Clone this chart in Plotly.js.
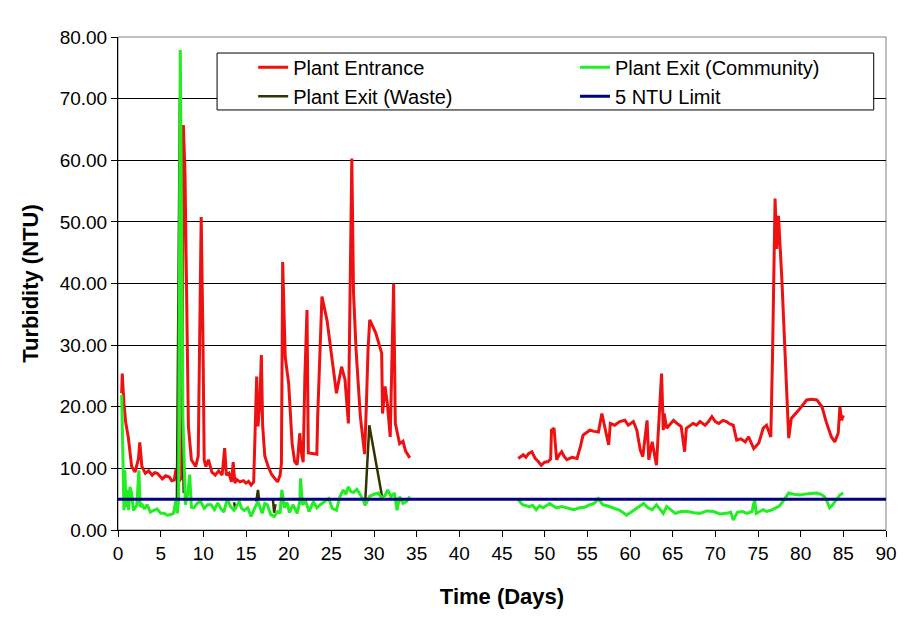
<!DOCTYPE html>
<html>
<head>
<meta charset="utf-8">
<script src="https://cdn.plot.ly/plotly-3.0.1.min.js"></script>
<style>
  html, body { margin: 0; padding: 0; background: #fff; }
  #chart { width: 911px; height: 624px; }
</style>
</head>
<body>
<div id="chart"></div>
<script>
// turbidity readings (days, NTU)
var entranceDays = [0.43, 0.5, 0.55, 0.7, 0.9, 1.2, 1.6, 2.0, 2.4, 2.55, 2.65, 2.8, 3.2, 3.6, 4.0, 4.3, 4.6, 5.0, 5.2, 5.6, 6.0, 6.3, 6.6, 6.8, 7.0, 7.2,
  7.46, 7.66, 7.85, 7.95, 8.25, 8.6, 9.1, 9.4, 9.6, 9.75, 9.95, 10.1, 10.3, 10.6, 11.0, 11.4, 11.8, 12.2, 12.5, 12.7, 13.0, 13.3, 13.5, 13.7, 13.9, 14.3, 14.7, 15.0, 15.3, 15.6, 15.9,
  16.1, 16.25, 16.4, 16.6, 16.8, 16.95, 17.2, 17.6, 18.0, 18.4, 18.7, 19.0, 19.15, 19.3, 19.6, 20.0, 20.4, 20.7, 21.0, 21.3, 21.5, 21.7, 21.9, 22.15, 22.3, 22.8, 23.3, 23.4, 23.9,
  24.5, 25.0, 25.6, 26.2, 26.6, 27.0, 27.2, 27.4, 27.6, 27.9, 28.4, 28.9, 29.1, 29.3, 29.5, 30.2, 30.9, 31.0, 31.3, 31.6, 31.9, 32.1, 32.3, 32.5, 32.8, 33.0, 33.4, 33.7, 34.2,
  40,
  46.9, 47.2, 47.5, 47.8, 48.1, 48.5, 48.9, 49.2, 49.6, 50.0, 50.4, 50.7, 50.8, 51.1, 51.4, 51.7, 52.0, 52.3, 52.6, 53.2, 53.8, 54.2, 54.5, 55.0, 55.3, 55.8, 56.3, 56.7, 57.1, 57.5, 57.7,
  58.2, 58.8, 59.4, 59.8, 60.4, 60.8, 61.2, 61.5, 62.0, 62.2, 62.6, 63.1, 63.4, 63.7, 63.9, 64.0, 64.3, 64.7, 65.1, 65.6, 66.0, 66.4, 66.6, 67.0, 67.4, 67.8, 68.2, 68.8, 69.2, 69.6,
  70.0, 70.4, 70.9, 71.3, 71.7, 72.1, 72.5, 73.0, 73.5, 73.9, 74.5, 75.1, 75.6, 76.0, 76.5, 76.7, 77.0, 77.2, 77.4, 77.8, 78.1, 78.4, 78.6, 78.9, 79.8, 80.7, 81.3, 81.9, 82.5, 83.0,
  83.6, 84.0, 84.4, 84.6, 84.8, 85.0];
var entranceNTU = [22.2, 25.4, 24.0, 20.5, 17.5, 15.1, 10.3, 9.4, 11.6, 14.2, 12.0, 10.3, 9.2, 9.6, 8.9, 9.3, 9.2, 8.7, 8.3, 8.8, 8.6, 8.0, 8.1, 9.9, 8.1, 8.0,
  8.5, 65.7, 57.9, 47.6, 16.8, 11.4, 10.3, 12.0, 37.9, 50.8, 31.6, 11.4, 10.3, 11.4, 9.4, 8.9, 9.6, 8.9, 13.3, 8.9, 9.2, 7.8, 11.0, 7.6, 8.2, 7.8, 8.0, 7.6, 7.9, 7.3, 7.8,
  18.9, 24.9, 16.8, 20.0, 28.4, 17.0, 12.0, 10.3, 9.0, 8.3, 7.8, 8.9, 10.8, 43.5, 28.0, 23.8, 14.1, 11.1, 10.6, 15.7, 12.5, 11.0, 24.9, 35.7, 12.5, 12.4, 12.3, 18.4, 37.9,
  34.0, 29.0, 22.2, 26.5, 24.4, 17.3, 38.4, 60.3, 38.5, 29.2, 18.4, 12.3, 20.0, 29.2, 34.1, 32.0, 28.7, 18.9, 23.3, 20.0, 15.1, 27.0, 40.0, 17.3, 15.0, 14.0, 14.4, 12.8, 11.7,
  null,
  11.6, 11.9, 12.2, 11.8, 12.4, 12.7, 11.6, 11.2, 10.5, 11.0, 11.1, 11.5, 16.2, 16.5, 11.4, 12.2, 12.7, 11.9, 11.4, 11.8, 11.6, 13.6, 15.4, 15.9, 16.2, 16.0, 15.9, 18.9, 16.5, 13.8, 17.3,
  17.0, 17.6, 17.8, 17.0, 17.6, 16.2, 13.0, 11.9, 17.8, 11.4, 14.3, 10.5, 17.8, 25.4, 16.2, 18.9, 16.5, 17.1, 17.8, 17.2, 16.8, 12.7, 16.5, 16.9, 17.3, 17.0, 17.6, 17.0, 17.6, 18.4,
  17.6, 17.3, 17.8, 17.6, 17.2, 17.0, 14.6, 14.8, 14.3, 15.1, 13.2, 14.1, 16.5, 17.0, 15.1, 28.1, 53.8, 45.6, 51.0, 40.6, 30.0, 21.6, 14.9, 18.1, 19.5, 21.1, 21.2, 21.1, 20.0, 17.5,
  15.1, 14.3, 15.7, 20.0, 17.8, 18.6];

var communityDays = [0.43, 0.55, 0.7, 0.8, 0.95, 1.1, 1.25, 1.4, 1.6, 1.8, 2.2, 2.45, 2.6, 2.75, 3.1, 3.4, 3.8, 4.2, 4.6, 5.0, 5.4, 5.8, 6.2, 6.5, 6.8, 6.95, 7.1,
  7.3, 7.45, 7.6, 7.9, 8.2, 8.4, 8.6, 8.9, 9.3, 9.7, 10.1, 10.5, 10.9, 11.3, 11.7, 12.0, 12.4, 12.8, 13.2, 13.6, 14.2, 14.5, 14.8, 15.2, 15.6, 16.0, 16.4, 16.9, 17.2, 17.5, 17.9,
  18.3, 18.7, 19.0, 19.2, 19.5, 19.8, 20.1, 20.5, 21.0, 21.3, 21.4, 21.6, 22.0, 22.4, 22.9, 23.3, 23.7, 24.2, 24.7, 25.1, 25.6, 26.0, 26.4, 26.7, 27.0, 27.3, 27.6, 28.0, 28.5, 29.0,
  29.5, 30.0, 30.5, 30.9, 31.3, 31.6, 32.0, 32.4, 32.7, 33.0, 33.4, 33.8, 34.2,
  40,
  46.9, 47.4, 48.2, 48.6, 49.0, 49.4, 49.8, 50.2, 50.6, 51.0, 51.4, 52.0, 52.6, 53.4, 54.1, 54.7, 55.3, 55.8, 56.3, 56.8, 57.4, 58.0, 58.8, 59.6, 60.2, 60.8, 61.2, 61.6, 62.1, 62.6,
  63.1, 63.5, 63.9, 64.3, 64.8, 65.3, 66.0, 66.7, 67.5, 68.2, 69.0, 69.8, 70.5, 71.3, 71.8, 72.1, 72.6, 73.2, 73.7, 74.3, 74.6, 74.8, 75.2, 75.6, 76.0, 76.5, 77.1, 77.5, 77.9, 78.6,
  79.2, 79.9, 80.9, 81.9, 82.4, 82.8, 83.1, 83.4, 83.7, 84.0, 84.3, 84.6, 85.0];
var communityNTU = [21.9, 13.5, 3.2, 9.7, 3.7, 6.5, 3.2, 7.0, 6.0, 3.2, 4.0, 9.7, 3.7, 4.3, 3.4, 4.1, 2.9, 3.2, 3.4, 2.7, 2.7, 2.4, 2.5, 2.7, 4.9, 2.7, 5.0,
  77.9, 48.0, 18.4, 4.1, 6.0, 9.0, 3.7, 3.6, 4.4, 4.6, 3.5, 4.1, 4.1, 3.3, 4.4, 3.6, 2.9, 5.0, 3.8, 3.2, 4.6, 3.5, 3.2, 3.6, 2.2, 3.5, 4.6, 2.7, 4.3, 4.1, 2.5,
  2.2, 3.0, 2.7, 6.5, 3.6, 4.5, 2.8, 4.1, 2.7, 4.6, 8.4, 4.1, 4.6, 3.0, 4.6, 3.6, 4.1, 4.6, 5.1, 3.5, 3.2, 5.4, 6.5, 5.8, 7.0, 6.2, 6.1, 6.6, 5.5, 4.1,
  5.5, 5.8, 6.0, 5.2, 5.6, 6.5, 5.4, 6.0, 3.2, 5.4, 4.3, 4.6, 5.4,
  null,
  4.9, 4.1, 3.8, 4.0, 3.3, 3.9, 3.6, 3.9, 4.3, 3.9, 3.6, 3.8, 3.6, 3.3, 3.6, 3.7, 4.1, 4.3, 5.1, 4.1, 3.9, 3.6, 3.2, 2.4, 3.0, 3.6, 3.9, 4.3, 3.6, 3.3,
  4.1, 3.3, 2.7, 3.8, 3.2, 2.7, 3.0, 3.0, 2.8, 2.7, 3.1, 3.0, 2.6, 2.7, 2.9, 1.6, 2.9, 3.0, 2.7, 3.0, 4.9, 2.7, 3.0, 3.3, 3.0, 3.2, 3.6, 3.9, 4.6, 6.0,
  5.8, 5.7, 5.9, 6.0, 5.8, 5.4, 4.6, 3.6, 4.0, 4.6, 5.2, 5.7, 6.0];

var wasteDays = [6.9, 7.07, 7.25, 7.46, 7.52, 7.7, null, 13.6, 13.75, 13.9, null, 16.2, 16.4, 16.55, null, 18.15, 18.3, 18.45, null, 28.8, 28.95, 29.45, 30.9, 31.0];
var wasteNTU = [5.0, 46.0, 70.0, 30.0, 19.0, 6.0, null, 4.5, 3.4, 4.2, null, 4.6, 6.5, 4.8, null, 5.0, 2.8, 4.2, null, 5.0, 4.0, 17.0, 5.1, 5.0];

var limitDays = [0, 90];
var limitNTU = [5, 5];

var seriesNames = ["Plant Entrance", "Plant Exit (Community)", "Plant Exit (Waste)", "5 NTU Limit"];

var axisFont = { family: "Liberation Sans, Arial, sans-serif", size: 19, color: "#000" };
var titleFont = { family: "Liberation Sans, Arial, sans-serif", size: 22, color: "#000", weight: "bold" };
var legendFont = { family: "Liberation Sans, Arial, sans-serif", size: 20, color: "#000" };

// waste is drawn under the community line; two legends give the two columns
var traces = [
  { x: entranceDays, y: entranceNTU, name: seriesNames[0], type: "scatter", mode: "lines",
    line: { color: "#ee1111", width: 3 }, legend: "legend", legendrank: 1 },
  { x: wasteDays, y: wasteNTU, name: seriesNames[2], type: "scatter", mode: "lines",
    line: { color: "#333300", width: 2.5 }, legend: "legend", legendrank: 2 },
  { x: communityDays, y: communityNTU, name: seriesNames[1], type: "scatter", mode: "lines",
    line: { color: "#22ee22", width: 3 }, legend: "legend2", legendrank: 1 },
  { x: limitDays, y: limitNTU, name: seriesNames[3], type: "scatter", mode: "lines",
    line: { color: "#000080", width: 3 }, legend: "legend2", legendrank: 2 }
];

var layout = {
  width: 911,
  height: 624,
  margin: { l: 118, r: 25, t: 37, b: 94 },
  paper_bgcolor: "#fff",
  plot_bgcolor: "#fff",
  showlegend: true,
  legend: {
    x: 0.176, y: 0.978, xanchor: "left", yanchor: "top",
    bgcolor: "rgba(0,0,0,0)",
    font: legendFont
  },
  legend2: {
    x: 0.595, y: 0.978, xanchor: "left", yanchor: "top",
    bgcolor: "rgba(0,0,0,0)",
    font: legendFont
  },
  xaxis: {
    range: [0, 90],
    dtick: 5,
    tick0: 0,
    ticks: "outside",
    ticklen: 6,
    tickcolor: "#000",
    showline: true,
    linecolor: "#000",
    linewidth: 1,
    showgrid: false,
    zeroline: false,
    tickfont: axisFont,
    title: { text: "Time (Days)", font: titleFont, standoff: 25 }
  },
  yaxis: {
    range: [0, 80],
    dtick: 10,
    tick0: 0,
    tickformat: ".2f",
    ticks: "outside",
    ticklen: 6,
    tickcolor: "#000",
    showline: true,
    linecolor: "#000",
    linewidth: 1,
    showgrid: true,
    gridcolor: "#000",
    gridwidth: 1,
    zeroline: false,
    tickfont: axisFont,
    title: { text: "Turbidity (NTU)", font: titleFont, standoff: 14 }
  },
  shapes: [
    // plot area frame
    { type: "rect", xref: "paper", yref: "paper", x0: 0, x1: 1, y0: 0, y1: 1,
      line: { color: "#808080", width: 1 }, layer: "below" },
    // legend box
    { type: "rect", xref: "paper", yref: "paper", x0: 0.129, x1: 0.984, y0: 0.852, y1: 0.9675,
      line: { color: "#000", width: 1 }, fillcolor: "#fff", layer: "above" }
  ]
};

Plotly.newPlot("chart", traces, layout, { displayModeBar: false, staticPlot: true });
</script>
</body>
</html>
